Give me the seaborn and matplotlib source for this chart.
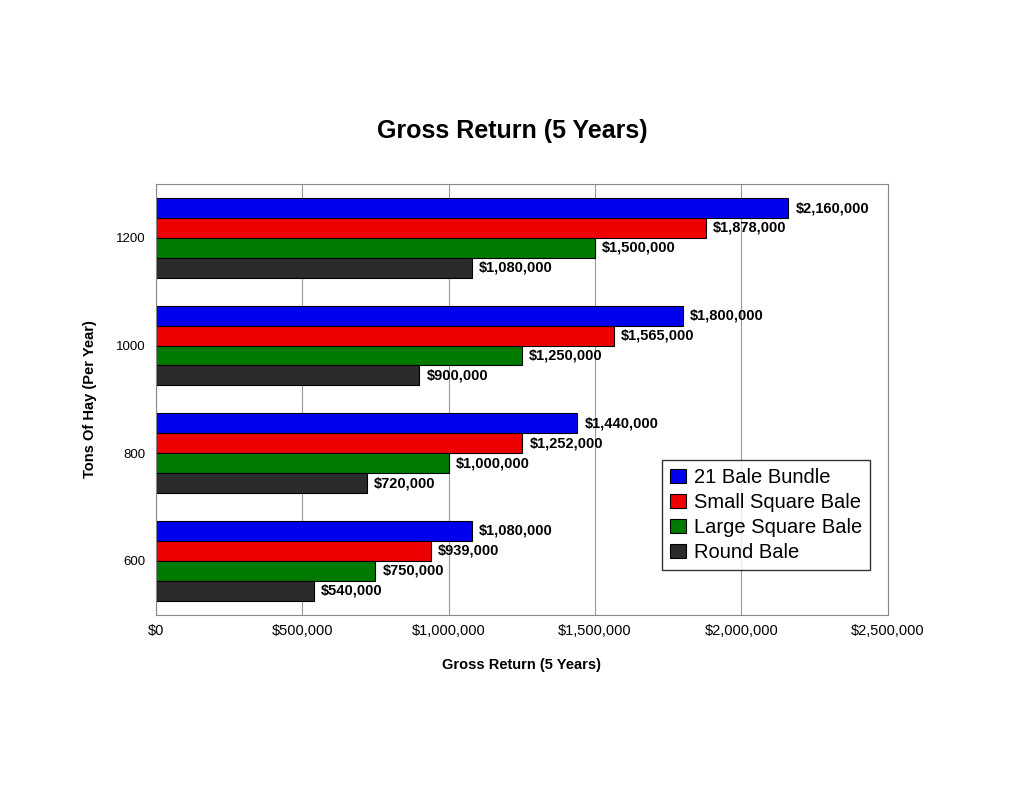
import pandas as pd
import matplotlib
matplotlib.use('Agg')
import matplotlib.pyplot as plt
import seaborn as sns

tons = ['1200', '1000', '800', '600']
series = ['21 Bale Bundle', 'Small Square Bale', 'Large Square Bale', 'Round Bale']
bundle = [2160000, 1800000, 1440000, 1080000]
small_square = [1878000, 1565000, 1252000, 939000]
large_square = [1500000, 1250000, 1000000, 750000]
round_bale = [1080000, 900000, 720000, 540000]
colors = ['#0000ee', '#ee0000', '#007a00', '#2b2b2b']

rows = []
for name, vals in zip(series, [bundle, small_square, large_square, round_bale]):
    for t, v in zip(tons, vals):
        rows.append({'Tons': t, 'Series': name, 'Value': v})
df = pd.DataFrame(rows)

sns.set_style('white', {'text.color': 'black', 'axes.labelcolor': 'black',
                        'xtick.color': 'black', 'ytick.color': 'black',
                        'font.family': 'Liberation Sans'})
fig = plt.figure(figsize=(10.24, 7.9), dpi=100)
ax = fig.add_axes([0.152, 0.222, 0.715, 0.545])
sns.barplot(data=df, y='Tons', x='Value', hue='Series', order=tons,
            hue_order=series, palette=colors, orient='h', width=0.74,
            edgecolor='black', linewidth=0.8, saturation=1, ax=ax)

for cont in ax.containers:
    for bar in cont:
        w = bar.get_width()
        ax.text(w + 25000, bar.get_y() + bar.get_height() / 2, f'${w:,.0f}',
                va='center', ha='left', fontsize=10.5, fontweight='bold')

ax.set_xlim(0, 2500000)
ax.set_xticks([0, 500000, 1000000, 1500000, 2000000, 2500000])
ax.set_xticklabels(['$0', '$500,000', '$1,000,000', '$1,500,000', '$2,000,000', '$2,500,000'],
                   fontsize=10.5)
ax.tick_params(axis='y', labelsize=9.5)
ax.xaxis.grid(True, color='#999999', linewidth=0.8)
ax.set_axisbelow(True)
for s in ax.spines.values():
    s.set_color('#888888')
ax.set_xlabel('Gross Return (5 Years)', fontsize=10.5, fontweight='bold', labelpad=14)
ax.set_ylabel('Tons Of Hay (Per Year)', fontsize=10.5, fontweight='bold', labelpad=14)
fig.text(0.5, 0.825, 'Gross Return (5 Years)', ha='center', fontsize=18, fontweight='bold')

ax.legend(loc='lower right', bbox_to_anchor=(0.99, 0.08), fontsize=14.5, frameon=True,
          edgecolor='black', fancybox=False, handlelength=0.8, handletextpad=0.4,
          borderpad=0.4, labelspacing=0.3)

fig.savefig('out.png', dpi=100)
